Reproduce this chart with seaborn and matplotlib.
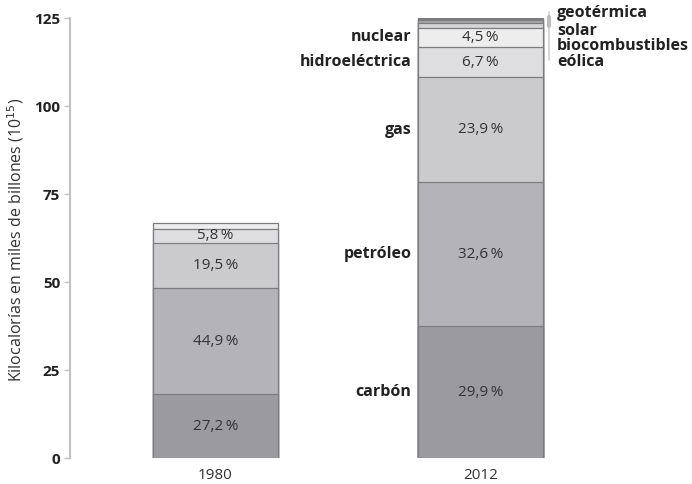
import numpy as np
import pandas as pd
import matplotlib
matplotlib.use("Agg")
import matplotlib.pyplot as plt
import seaborn as sns

YEARS = ["1980", "2012"]
TOTALS = [66.8, 125.3]
SOURCES = ["carbón", "petróleo", "gas", "hidroeléctrica", "nuclear",
           "eólica", "biocombustibles", "solar", "geotérmica"]
PCT_1980 = [27.2, 44.9, 19.5, 5.8, 2.6, 0.0, 0.0, 0.0, 0.0]
PCT_2012 = [29.9, 32.6, 23.9, 6.7, 4.5, 1.0, 0.6, 0.4, 0.4]
LABELED = ["carbón", "petróleo", "gas", "hidroeléctrica", "nuclear"]
SMALL = ["geotérmica", "solar", "biocombustibles", "eólica"]

COLORS = {"carbón": "#9b9b9f", "petróleo": "#b4b4b8", "gas": "#cbcbcd",
          "hidroeléctrica": "#dedee0", "nuclear": "#ededee",
          "eólica": "#d4d4d6", "biocombustibles": "#a8a8ab",
          "solar": "#8c8c90", "geotérmica": "#7a7a7e"}

sns.set_theme(style="white")
plt.rcParams["font.family"] = ["Open Sans", "DejaVu Sans"]

# cumulative values per layer
rows = []
for year, total, pcts in [(YEARS[0], TOTALS[0], PCT_1980), (YEARS[1], TOTALS[1], PCT_2012)]:
    cum = 0.0
    for src, p in zip(SOURCES, pcts):
        val = total * p / 100
        rows.append({"year": year, "source": src, "pct": p,
                     "bottom": cum, "top": cum + val})
        cum += val
df = pd.DataFrame(rows)

fig = plt.figure(figsize=(6.92, 4.84), dpi=100)
ax = fig.add_axes([70 / 692, 26 / 484, 622 / 692, 440 / 484])

# draw from top layer down so each lower layer overlays the previous
for src in SOURCES[::-1]:
    sub = df[df["source"] == src]
    sub = sub[sub["pct"] > 0]
    sns.barplot(data=sub, x="year", y="top", order=YEARS, color=COLORS[src],
                width=0.472, edgecolor="#7d7d80", linewidth=0.9,
                saturation=1, ax=ax, errorbar=None)

for _, r in df.iterrows():
    if r["pct"] <= 0 or r["source"] not in LABELED:
        continue
    if r["year"] == "1980" and r["source"] == "nuclear":
        continue
    xi = YEARS.index(r["year"])
    ymid = (r["bottom"] + r["top"]) / 2
    ax.text(xi, ymid, f"{r['pct']:.1f}".replace(".", ",") + "\u2009%", ha="center",
            va="center", fontsize=11, color="#333333")
    if r["year"] == "2012":
        ax.text(xi - 0.26, ymid, r["source"], ha="right", va="center",
                fontsize=11.5, fontweight="bold", color="#222222")

# small sources labelled on the right
small_y = [126.4, 121.3, 117.0, 112.5]
for name, yy in zip(SMALL, small_y):
    ax.text(1.289, yy, name, ha="left", va="center", fontsize=11.5,
            fontweight="bold", color="#222222", clip_on=False)
ax.plot([1.258, 1.258], [113.1, 126.7], color="#cfcfcf", lw=1.2, clip_on=False)
ax.plot([1.258, 1.258], [122.6, 125.2], color="#bdbdbd", lw=3, clip_on=False)

ax.set_xlim(-0.549, 1.798)
ax.set_ylim(0, 125)
ax.set_yticks([0, 25, 50, 75, 100, 125])
ax.set_yticklabels(["0", "25", "50", "75", "100", "125"], fontweight="bold",
                   fontsize=11, color="#222222")
ax.tick_params(axis="y", left=True, length=4, width=1, color="#c0c0c0", pad=3)
ax.tick_params(axis="x", bottom=False, labelsize=11, labelcolor="#333333", pad=1)
ax.set_xlabel("")
ax.set_ylabel("Kilocalorías en miles de billones (10$^{15}$)", fontsize=11.5,
              color="#333333")
ax.yaxis.set_label_coords(-0.07, 0.495)
for s in ["top", "right", "bottom"]:
    ax.spines[s].set_visible(False)
ax.spines["left"].set_color("#c0c0c0")
ax.spines["left"].set_linewidth(1.5)

fig.savefig("out.png", dpi=100)
